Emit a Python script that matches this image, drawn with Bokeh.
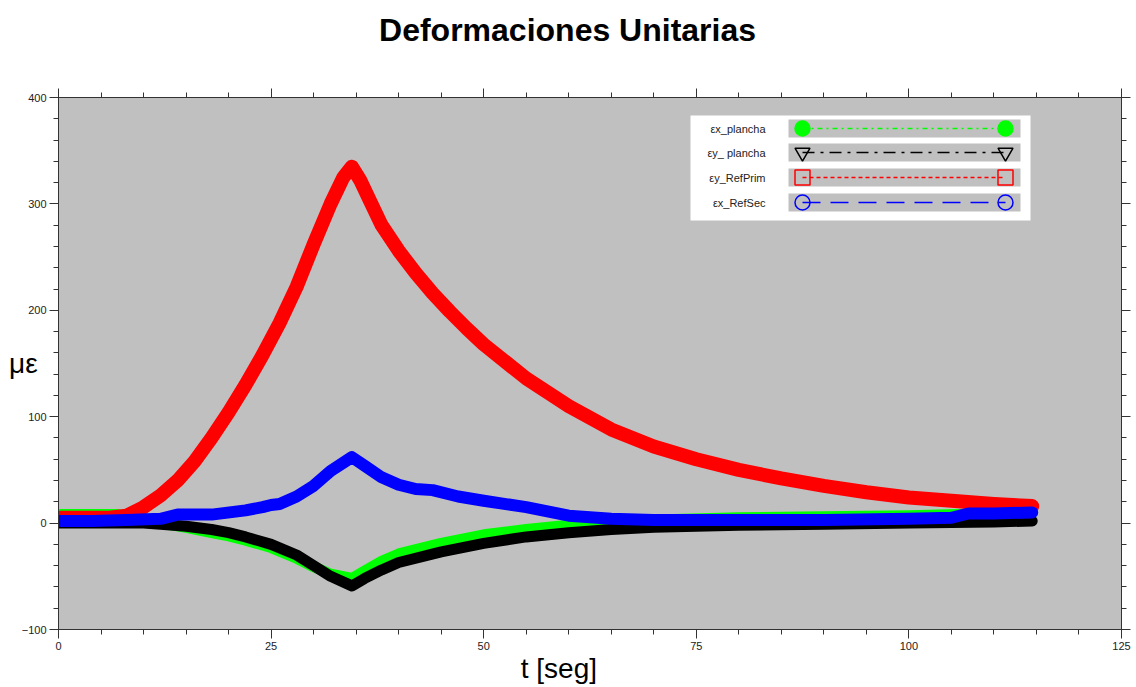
from bokeh.plotting import figure
from bokeh.models import Range1d, SingleIntervalTicker, LinearAxis
from bokeh.layouts import column
from bokeh.embed import file_html
from bokeh.resources import INLINE
from bokeh.core.properties import value

# ---- data ----
t_red = [0, 3, 6, 8, 10, 12, 14, 16, 18, 20, 22, 24, 26, 28, 30, 32, 33.5, 34.5, 35.5, 36.5, 38, 40,
         42, 44, 46, 48, 50, 55, 60, 65, 70, 75, 80, 85, 90, 95, 100, 105, 110, 114.5]
v_red = [5, 5, 5, 7, 15, 26, 40, 58, 80, 104, 130, 158, 188, 222, 262, 300, 325, 335, 322, 305, 280,
         256, 235, 216, 199, 183, 168, 136, 110, 88, 72, 60, 50, 42, 35, 29, 24, 21, 18, 16]

t_blue = [0, 4, 8, 12, 14, 18, 22, 24, 25, 26, 28, 30, 32, 34.5, 36, 38, 40, 42, 44, 47, 50, 55, 60,
          65, 70, 80, 90, 100, 105, 107, 110, 114.5]
v_blue = [2, 2, 3, 4, 8, 8, 12, 15, 17, 18, 25, 35, 49, 62, 54, 43, 36, 32, 31, 25, 21, 15, 7,
          4, 3, 3, 3, 4, 5, 9, 9, 10]

t_black = [0, 5, 10, 12, 15, 18, 20, 22, 25, 28, 30, 32, 34.5, 36, 38, 40, 45, 50, 55, 60, 65, 70,
           80, 90, 100, 110, 114.5]
v_black = [0, 0, 0, -1, -3, -6, -9, -13, -20, -30, -40, -50, -59, -52, -44, -37, -27, -19, -13, -9,
           -6, -4, -2, -1, 0, 1, 2]

t_green = [0, 4, 7, 10, 12, 15, 18, 20, 22, 25, 28, 30, 32, 34.5, 36, 38, 40, 45, 50, 55, 60, 65,
           70, 80, 90, 100, 110, 114.5]
v_green = [8, 8, 8, 4, 0, -4, -9, -12, -16, -23, -33, -41, -48, -52, -45, -36, -29, -19, -11, -6,
           -2, 1, 3, 5, 6, 7, 9, 10]

legend_labels = ["\u03b5x_plancha", "\u03b5y_ plancha", "\u03b5y_RefPrim", "\u03b5x_RefSec"]
legend_colors = ["#00FF00", "#000000", "#FF0000", "#0000FF"]
legend_markers = ["circle", "inverted_triangle", "square", "circle"]
legend_fill = [True, False, False, False]
legend_dash = ["5 4 2 4", "12 6 3 6", "4 3", "18 10"]

title_text = "Deformaciones Unitarias"

FONT = "Liberation Sans"
TITLE_H = 50

# ---- title strip (separate small figure) ----
ft = figure(width=1136, height=TITLE_H, output_backend="svg", toolbar_location=None,
            x_range=Range1d(0, 1136), y_range=Range1d(TITLE_H, 0),
            min_border=0, x_axis_location=None, y_axis_location=None)
ft.outline_line_color = None
ft.grid.visible = False
ft.background_fill_color = "white"
ft.border_fill_color = "white"
ft.text(x=[544], y=[29], text=[title_text], text_align="center", text_baseline="middle",
        text_font=value(FONT), text_font_size="32px", text_font_style="bold", text_color="black")

# ---- main plot ----
p = figure(width=1136, height=687 - TITLE_H, output_backend="svg", toolbar_location=None,
           x_range=Range1d(0, 125), y_range=Range1d(-100, 400),
           min_border_left=58, min_border_right=15, min_border_top=97 - TITLE_H,
           min_border_bottom=58, x_axis_location=None, y_axis_location=None)
p.background_fill_color = "#C0C0C0"
p.border_fill_color = "white"
p.outline_line_color = "#333333"
p.grid.visible = False

# pixel helper ranges for the legend decorations (page pixel coordinates)
p.extra_x_ranges = {"px": Range1d(58, 1121)}
p.extra_y_ranges = {"px": Range1d(629, 97)}

def make_axis(ticker_interval, show_labels):
    ax = LinearAxis(ticker=SingleIntervalTicker(interval=ticker_interval, num_minor_ticks=5))
    ax.axis_line_color = "#333333"
    ax.major_tick_line_color = "#333333"
    ax.minor_tick_line_color = "#333333"
    ax.major_tick_out = 9
    ax.major_tick_in = 0
    ax.minor_tick_out = 5
    ax.minor_tick_in = 0
    ax.major_label_text_font = FONT
    ax.major_label_text_font_size = "11px"
    ax.major_label_standoff = 3
    ax.major_label_text_color = "#222222" if show_labels else None
    if not show_labels:
        ax.major_label_text_font_size = "0px"
        ax.major_label_standoff = 0
    return ax

xb = make_axis(25, True)
xb.axis_label = "t [seg]" + "\u00a0" * 8
xb.axis_label_text_font = FONT
xb.axis_label_text_font_size = "28px"
xb.axis_label_text_font_style = "normal"
xb.axis_label_text_color = "black"
xb.axis_label_standoff = 0
p.add_layout(xb, "below")

yl = make_axis(100, True)
yl.axis_label = "\u03bc\u03b5"
yl.axis_label_text_font = FONT
yl.axis_label_text_font_size = "28px"
yl.axis_label_text_font_style = "normal"
yl.axis_label_text_color = "black"
yl.axis_label_orientation = "horizontal"
yl.axis_label_standoff = -19
p.add_layout(yl, "left")

p.add_layout(make_axis(25, False), "above")
p.add_layout(make_axis(100, False), "right")

# data series
W = 13
p.line(t_green, v_green, line_color="#00FF00", line_width=W - 2, line_join="round", line_cap="round")
p.line(t_black, v_black, line_color="#000000", line_width=W - 2, line_join="round", line_cap="round")
p.line(t_red, v_red, line_color="#FF0000", line_width=W + 1, line_join="round", line_cap="round")
p.line(t_blue, v_blue, line_color="#0000FF", line_width=W - 1, line_join="round", line_cap="round")

# legend (custom, in pixel ranges)
p.quad(left=[690], right=[1030], top=[115], bottom=[220], fill_color="white", line_color=None,
       x_range_name="px", y_range_name="px")
row_y = [128, 152, 177, 202]
for lab, col, mk, fill, dash, cy in zip(legend_labels, legend_colors, legend_markers, legend_fill,
                                         legend_dash, row_y):
    p.quad(left=[788], right=[1020], top=[cy - 9], bottom=[cy + 9], fill_color="#C0C0C0",
           line_color=None, x_range_name="px", y_range_name="px")
    p.segment(x0=[802], x1=[1005], y0=[cy], y1=[cy], line_color=col, line_width=1.3,
              line_dash=dash, x_range_name="px", y_range_name="px")
    p.scatter(x=[802, 1005], y=[cy, cy], marker=mk, size=15,
              fill_color=col if fill else None, line_color=col, line_width=1.5,
              x_range_name="px", y_range_name="px")
    p.text(x=[765], y=[cy], text=[lab], text_align="right", text_baseline="middle",
           text_font=value(FONT), text_font_size="11px", text_color="#222222",
           x_range_name="px", y_range_name="px")

layout = column(ft, p, spacing=0)
open("out.html", "w").write(file_html(layout, INLINE))
